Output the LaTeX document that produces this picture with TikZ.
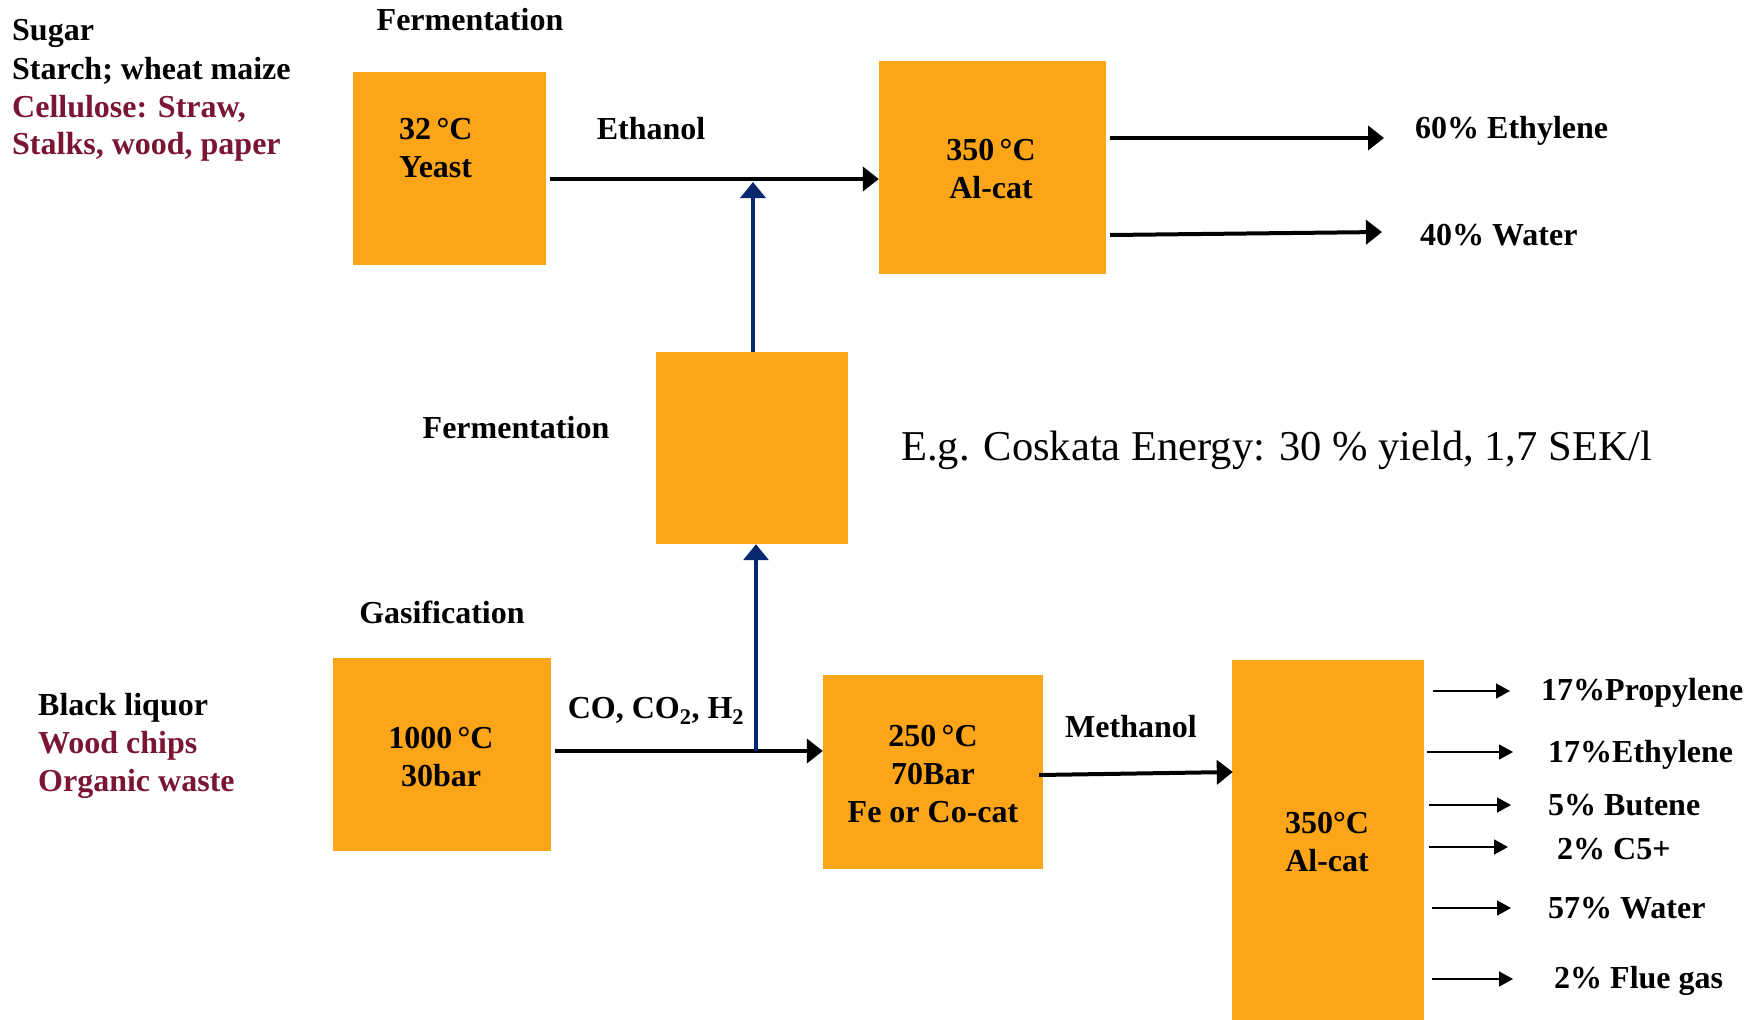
\documentclass[tikz,border=0pt]{standalone}
\usepackage{fontspec}
\setmainfont{Liberation Serif}
\usetikzlibrary{arrows.meta}
\definecolor{boxorange}{RGB}{253,165,24}
\definecolor{darkred}{RGB}{122,22,52}
\definecolor{arrowblue}{RGB}{5,40,110}
\begin{document}
\begin{tikzpicture}[x=1pt,y=-1pt,
  box/.style={fill=boxorange,draw=none,inner sep=0pt},
  lbl/.style={font=\fontsize{32}{38}\selectfont\bfseries,inner sep=0pt,align=center},
  lbll/.style={lbl,anchor=west,align=left},
  note/.style={font=\fontsize{42.5}{50}\selectfont,inner sep=0pt,anchor=west},
  thick arrow/.style={line width=4pt,-{Triangle[length=16pt,width=24pt]}},
  blue arrow/.style={draw=arrowblue,line width=3.6pt,-{Triangle[length=16pt,width=25pt]}},
  thin arrow/.style={line width=1.6pt,-{Triangle[length=14pt,width=15pt]}}
]
\useasboundingbox (0,0) rectangle (1762,1020);

% left text blocks
\node[lbll] (s1) at (12,33) {Sugar};
\node[lbll] (s2) at (12,71) {Starch; wheat maize};
\node[lbll,text=darkred] (s3) at (12,109) {Cellulose: Straw,};
\node[lbll,text=darkred] (s4) at (12,147) {Stalks, wood, paper};

\node[lbll] (b1) at (38,708) {Black liquor};
\node[lbll,text=darkred] (b2) at (38,746) {Wood chips};
\node[lbll,text=darkred] (b3) at (38,784) {Organic waste};

% titles
\node[lbl] (tferm) at (470,20) {Fermentation};
\node[lbl] (mferm) at (516,428) {Fermentation};
\node[lbl] (tgas) at (442,612) {Gasification};

% boxes
\node[box,minimum width=193pt,minimum height=193pt] (A) at (449.5,168.5) {};
\node[box,minimum width=227pt,minimum height=213pt] (B) at (992.5,167.5) {};
\node[box,minimum width=192pt,minimum height=192pt] (C) at (752,448) {};
\node[box,minimum width=218pt,minimum height=193pt] (D) at (442,754.5) {};
\node[box,minimum width=220pt,minimum height=194pt] (E) at (933,772) {};
\node[box,minimum width=192pt,minimum height=360pt] (F) at (1328,840) {};

% box texts
\node[lbll] (At) at (399,148) {32\,°C\\Yeast};
\node[lbl] (Bt) at (991,169) {350\,°C\\Al-cat};
\node[lbl] (Dt) at (441,757) {1000\,°C\\30bar};
\node[lbl] (Et) at (933,774) {250\,°C\\70Bar\\Fe or Co-cat};
\node[lbl] (Ft) at (1327,842) {350°C\\Al-cat};

% connector labels
\node[lbl] (eth) at (651,129) {Ethanol};
\node[lbl] (syn) at (656,711) {CO, CO\textsubscript{2}, H\textsubscript{2}};
\node[lbl] (meth) at (1131,727) {Methanol};

\node[note] (cosk) at (901,450) {E.g. Coskata Energy: 30 \% yield, 1,7 SEK/l};

% product labels
\node[lbll] (p1) at (1415,131) {60\% Ethylene};
\node[lbll] (p2) at (1420,235) {40\% Water};
\node[lbll] (q1) at (1541,693) {17\%Propylene};
\node[lbll] (q2) at (1548,755) {17\%Ethylene};
\node[lbll] (q3) at (1548,805) {5\% Butene};
\node[lbll] (q4) at (1557,849) {2\% C5+};
\node[lbll] (q5) at (1548,908) {57\% Water};
\node[lbll] (q6) at (1554,981) {2\% Flue gas};

% coordinates on the main lines
\coordinate (ab) at (753,179);
\coordinate (de) at (756,751);

% connectors
\draw[thick arrow] ([xshift=4pt]A.east |- ab) -- (B.west |- ab);
\draw[blue arrow] (C.north -| ab) -- ([yshift=-3pt]ab);
\draw[thick arrow] ([xshift=4pt]D.east |- de) -- (E.west |- de);
\draw[blue arrow] (de) -- (C.south -| de);
\draw[thick arrow] ([xshift=-4pt]E.east |- 0,775) -- ([xshift=1pt]F.west |- 0,772);

\draw[thick arrow] ([xshift=4pt]B.east |- 0,138) -- ([xshift=-31pt]p1.west |- 0,138);
\draw[thick arrow] ([xshift=4pt]B.east |- 0,235) -- ([xshift=-38pt]p2.west |- 0,232);

\draw[thin arrow] ([xshift=9pt]F.east |- 0,691) -- ([xshift=-31pt]q1.west |- 0,691);
\draw[thin arrow] ([xshift=3pt]F.east |- 0,752) -- ([xshift=-35pt]q2.west |- 0,752);
\draw[thin arrow] ([xshift=5pt]F.east |- 0,805) -- ([xshift=-37pt]q3.west |- 0,805);
\draw[thin arrow] ([xshift=5pt]F.east |- 0,847) -- ([xshift=-49pt]q4.west |- 0,847);
\draw[thin arrow] ([xshift=8pt]F.east |- 0,908) -- ([xshift=-37pt]q5.west |- 0,908);
\draw[thin arrow] ([xshift=8pt]F.east |- 0,979) -- ([xshift=-41pt]q6.west |- 0,979);
\end{tikzpicture}
\end{document}
